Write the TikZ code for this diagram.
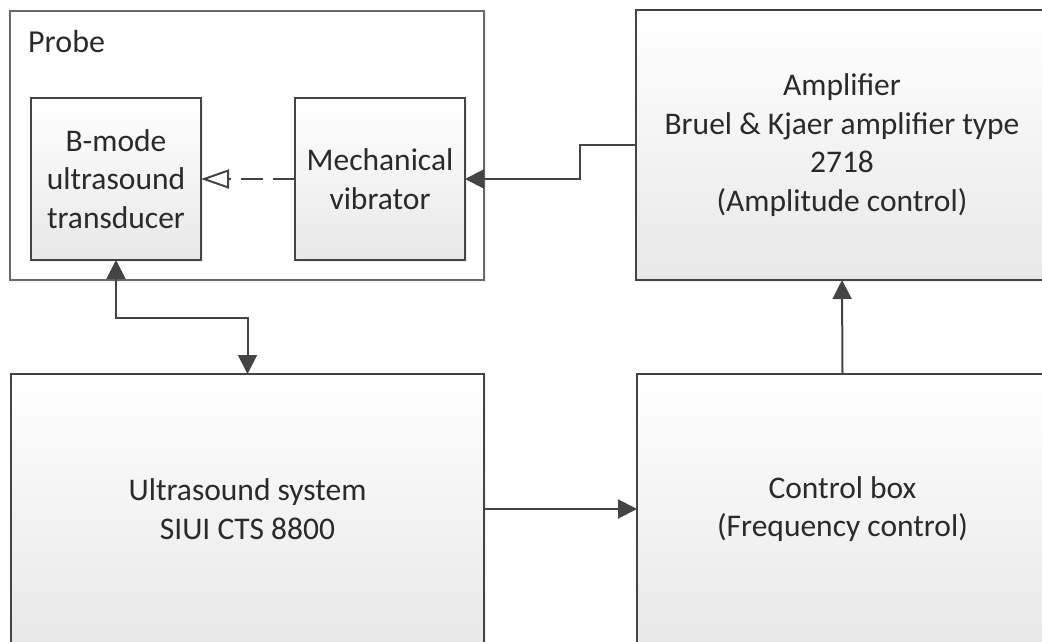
\documentclass[tikz,border=0pt]{standalone}
\usepackage{fontspec}
\setmainfont{Carlito}
\usetikzlibrary{arrows.meta,shadows}
\definecolor{edge}{HTML}{444444}
\definecolor{txt}{HTML}{2A2A2A}
\tikzset{
  boxstyle/.style={draw=edge, line width=2pt, top color=white, bottom color=black!9,
    inner sep=0pt, outer sep=0pt, align=center, text=txt,
    font=\fontsize{31.5}{38.5}\selectfont,
    drop shadow={opacity=0.12, shadow xshift=2pt, shadow yshift=-2pt}},
  groupbox/.style={draw=edge!80, line width=2pt, fill=white, inner sep=0pt, outer sep=0pt,
    drop shadow={opacity=0.12, shadow xshift=2pt, shadow yshift=-2pt}},
  tipf/.tip={Triangle[length=19pt,width=19pt]},
  conn/.style={draw=edge, line width=2pt, -tipf},
  dconn/.style={draw=edge, line width=2pt, tipf-tipf},
  dashconn/.style={draw=edge, line width=2pt, dash pattern=on 22pt off 10pt,
    -{Triangle[open,length=28pt,width=19pt,line width=2pt,fill=white]}},
  labeltext/.style={text=txt, font=\fontsize{32}{38.5}\selectfont, inner sep=0pt}
}
\begin{document}
\begin{tikzpicture}[x=1pt,y=-1pt]
\useasboundingbox (0,0) rectangle (1042,642);
\clip (0,0) rectangle (1042,642);
\fill[white] (0,0) rectangle (1042,642);
% group
\node[groupbox, minimum width=474pt, minimum height=269pt] (probe) at (247,145.5) {};
\node[labeltext, anchor=base west] (probelabel) at (28,53) {Probe};
% boxes
\node[boxstyle, minimum width=170pt, minimum height=162pt] (bmode) at (116,179) {B-mode\\ultrasound\\transducer};
\node[boxstyle, minimum width=170pt, minimum height=162pt] (mech) at (380,179) {Mechanical\\vibrator};
\node[boxstyle, minimum width=412pt, minimum height=270pt] (amp) at (842,145) {Amplifier\\Bruel \& Kjaer amplifier type\\2718\\(Amplitude control)};
\node[boxstyle, minimum width=473pt, minimum height=270pt] (ultra) at (247.5,509) {Ultrasound system\\SIUI CTS 8800};
\node[boxstyle, minimum width=411pt, minimum height=270pt] (ctrl) at (842.5,509) {Control box\\(Frequency control)};
% connectors
\draw[conn] (amp.west) -- ++(-56,0) |- (mech.east);
\draw[dashconn] (mech.west) -- (bmode.east);
\draw[dconn] (bmode.south) -- ++(0,58) -| (ultra.north);
\draw[conn] (ultra.east) -- (ctrl.west);
\draw[conn] (ctrl.north) -- (amp.south);
\end{tikzpicture}
\end{document}
